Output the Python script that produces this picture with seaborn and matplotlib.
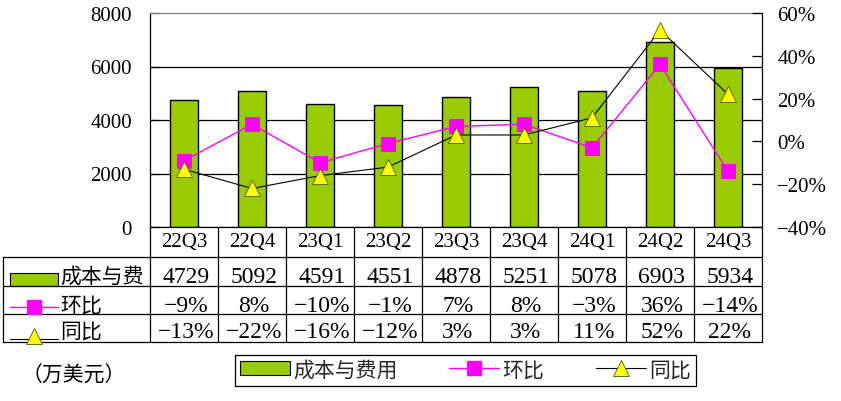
import numpy as np
import pandas as pd
import matplotlib
matplotlib.use("Agg")
import matplotlib.pyplot as plt
import seaborn as sns
from matplotlib.patches import Patch, Rectangle
from matplotlib.lines import Line2D
from matplotlib.ticker import FuncFormatter

# data
quarters = ['22Q3', '22Q4', '23Q1', '23Q2', '23Q3', '23Q4', '24Q1', '24Q2', '24Q3']
costs = [4729, 5092, 4591, 4551, 4878, 5251, 5078, 6903, 5934]
qoq = [-9, 8, -10, -1, 7, 8, -3, 36, -14]
yoy = [-13, -22, -16, -12, 3, 3, 11, 52, 22]
row_labels = ['成本与费', '环比', '同比']
legend_labels = ['成本与费用', '环比', '同比']
unit_label = '（万美元）'
left_ticks = [0, 2000, 4000, 6000, 8000]
right_ticks = [-40, -20, 0, 20, 40, 60]

GREEN = '#99CC00'
MAGENTA = '#FF00FF'
YELLOW = '#FFFF00'

sns.set_theme(style='white')
plt.rcParams['font.family'] = ['Liberation Serif', 'Noto Sans CJK SC']
plt.rcParams['axes.unicode_minus'] = True

W, H = 841, 402
fig = plt.figure(figsize=(W / 100, H / 100), dpi=100)


def fx(px):
    return px / W


def fy(py):
    return 1 - py / H


def pct(v):
    return f'{v:.0f}%'.replace('-', '\u2212')


# plot area in pixels
L, R, T, B = 150, 762, 14, 228

# background layer in pixel coords for the data table
tax = fig.add_axes([0, 0, 1, 1])
tax.set_xlim(0, W)
tax.set_ylim(H, 0)
tax.axis('off')

ax = fig.add_axes([fx(L), fy(B), fx(R) - fx(L), fy(T) - fy(B)])
ax.patch.set_alpha(0)

df = pd.DataFrame({'quarter': quarters, 'cost': costs, 'qoq': qoq, 'yoy': yoy})

sns.barplot(data=df, x='quarter', y='cost', color=GREEN, saturation=1,
            edgecolor='black', linewidth=1, width=0.41, ax=ax)
ax.set_xlim(-0.5, len(quarters) - 0.5)
ax.set_ylim(0, 8000)
ax.set_yticks(left_ticks)
ax.set_yticklabels([str(t) for t in left_ticks])
ax.yaxis.grid(True, color='black', lw=0.9)
ax.xaxis.grid(False)
ax.set_axisbelow(True)
ax.yaxis.get_gridlines()[-1].set_visible(False)
ax.tick_params(axis='y', direction='in', length=6, width=0.9, color='black',
               pad=13, labelsize=15, left=True, labelcolor='black')
ax.tick_params(axis='x', bottom=False, labelbottom=False)
ax.set_xlabel('')
ax.set_ylabel('')
for s in ['left', 'bottom']:
    ax.spines[s].set_color('black')
    ax.spines[s].set_linewidth(0.9)
ax.spines['top'].set_color('#808080')
ax.spines['top'].set_linewidth(0.9)
ax.spines['right'].set_visible(False)

ax2 = ax.twinx()
sns.lineplot(data=df, x='quarter', y='qoq', ax=ax2, color=MAGENTA, lw=1,
             marker='s', markersize=10, markerfacecolor=MAGENTA,
             markeredgecolor=MAGENTA, sort=False, legend=False)
sns.lineplot(data=df, x='quarter', y='yoy', ax=ax2, color='black', lw=0.8,
             marker='^', markersize=11, markerfacecolor=YELLOW,
             markeredgecolor='#555500', markeredgewidth=0.6, sort=False, legend=False)
ax2.set_xlim(-0.5, len(quarters) - 0.5)
ax2.set_ylim(-40, 60)
ax2.set_yticks(right_ticks)
ax2.yaxis.set_major_formatter(FuncFormatter(lambda v, p: pct(v)))
ax2.tick_params(axis='y', direction='in', length=7, width=0.9, color='black',
                pad=11, labelsize=15, right=True, labelcolor='black')
ax2.set_ylabel('')
ax2.set_xlabel('')
for s in ['left', 'top', 'bottom']:
    ax2.spines[s].set_visible(False)
ax2.spines['right'].set_color('black')
ax2.spines['right'].set_linewidth(0.9)

# data table under the plot
n = len(quarters)
col_edges = np.linspace(L, R, n + 1)
col_mid = (col_edges[:-1] + col_edges[1:]) / 2
row_edges = [B, 258, 287, 315, 343]
table_left = 3
lw = 0.9
for x in col_edges:
    tax.plot([x, x], [B, row_edges[-1]], color='black', lw=lw)
tax.plot([table_left, table_left], [row_edges[1], row_edges[-1]], color='black', lw=lw)
for y in row_edges[1:]:
    tax.plot([table_left, R], [y, y], color='black', lw=lw)

for x, q in zip(col_mid, quarters):
    tax.text(x, 243, q, ha='center', va='center', fontsize=15, color='black')
row_values = [[str(v) for v in costs], [pct(v) for v in qoq], [pct(v) for v in yoy]]
row_text_y = [278, 307, 333]
for vals, y in zip(row_values, row_text_y):
    for x, v in zip(col_mid, vals):
        tax.text(x + 2, y, v, ha='center', va='center', fontsize=17, color='black')

# row label glyphs
tax.add_patch(Rectangle((10, 274), 48, 13, facecolor=GREEN, edgecolor='black', lw=0.8))
tax.plot([10, 58], [308, 308], color=MAGENTA, lw=1)
tax.plot([34], [308], marker='s', markersize=10, color=MAGENTA)
tax.plot([10, 58], [340, 340], color='black', lw=0.8)
tax.plot([34], [337], marker='^', markersize=11, markerfacecolor=YELLOW,
         markeredgecolor='#555500', markeredgewidth=0.6)
for lab, y in zip(row_labels, row_text_y):
    tax.text(60, y, lab, ha='left', va='center', fontsize=15, color='black')

# legend
handles = [
    Patch(facecolor=GREEN, edgecolor='black', lw=0.8),
    Line2D([], [], color=MAGENTA, lw=1, marker='s', markersize=10,
           markerfacecolor=MAGENTA, markeredgecolor=MAGENTA),
    Line2D([], [], color='black', lw=0.8, marker='^', markersize=11,
           markerfacecolor=YELLOW, markeredgecolor='#555500', markeredgewidth=0.6),
]
leg = fig.legend(handles, legend_labels, ncol=3, loc='center',
                 bbox_to_anchor=(fx(465.5), fy(371.5)), frameon=True, fancybox=False,
                 edgecolor='black', framealpha=1, fontsize=15, handlelength=2.4,
                 handleheight=0.7, handletextpad=0.15, columnspacing=2.5,
                 borderpad=0.25, borderaxespad=0)
leg.get_frame().set_linewidth(0.9)

fig.text(fx(22), fy(377), unit_label, fontsize=15, ha='left', va='center', color='black')

fig.savefig('out.png', dpi=100)
